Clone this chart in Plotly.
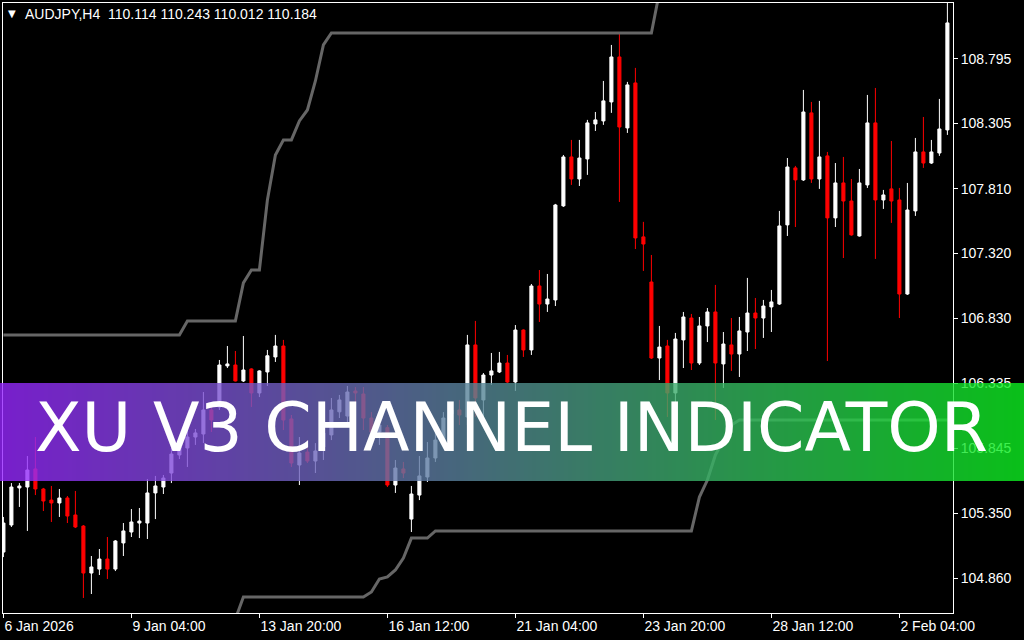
import plotly.graph_objects as go

# ---------------- data ----------------
bar_index = list(range(119))

date_tick_positions = [0, 16, 32, 48, 64, 80, 96, 112]
date_tick_labels = ["6 Jan 2026", "9 Jan 04:00", "13 Jan 20:00", "16 Jan 12:00",
                    "21 Jan 04:00", "23 Jan 20:00", "28 Jan 12:00", "2 Feb 04:00"]

price_ticks = [104.860, 105.350, 105.845, 106.335, 106.830, 107.320, 107.810, 108.305, 108.795]
price_tick_labels = ["104.860", "105.350", "105.845", "106.335", "106.830",
                     "107.320", "107.810", "108.305", "108.795"]

opens = [
    105.057, 105.262, 105.543, 105.550, 105.687, 105.535, 105.451, 105.429, 105.467, 105.338,
    105.254, 104.898, 104.928, 105.004, 104.928, 105.126, 105.209, 105.277, 105.277, 105.505,
    105.550, 105.656, 105.793, 105.846, 105.929, 105.952, 106.134, 106.157, 106.468, 106.475,
    106.354, 106.445, 106.263, 106.422, 106.536, 106.619, 106.066, 105.717, 105.815, 105.747,
    105.853, 105.945, 106.120, 106.088, 106.278, 106.255, 106.073, 105.967, 106.000, 105.565,
    105.687, 105.307, 105.489, 105.626, 105.770, 105.906, 106.104, 106.134, 106.081, 106.627,
    106.210, 106.399, 106.422, 106.490, 106.346, 106.740, 106.589, 107.074, 106.937, 106.968,
    107.681, 108.052, 107.885, 108.037, 108.302, 108.325, 108.469, 108.810, 108.272, 108.613,
    107.446, 107.104, 106.528, 106.619, 106.263, 106.665, 106.831, 106.490, 106.771, 106.877,
    106.483, 106.627, 106.558, 106.725, 106.869, 106.831, 106.915, 106.937, 107.537, 107.969,
    107.878, 108.386, 107.885, 108.060, 107.590, 107.855, 107.718, 107.453, 107.840, 108.310,
    107.726, 107.810, 107.726, 107.013, 107.643, 108.090, 108.006, 108.082, 108.257,
]
highs = [
    105.323, 105.580, 105.580, 105.785, 105.929, 105.543, 105.558, 105.535, 105.482, 105.520,
    105.262, 105.027, 105.080, 105.171, 105.148, 105.277, 105.383, 105.391, 105.611, 105.634,
    105.641, 105.846, 105.891, 105.982, 105.990, 106.270, 106.195, 106.513, 106.619, 106.581,
    106.695, 106.450, 106.435, 106.589, 106.703, 106.665, 106.096, 105.929, 105.906, 105.883,
    106.005, 106.225, 106.248, 106.316, 106.308, 106.308, 106.118, 106.096, 106.020, 105.755,
    105.740, 105.558, 105.785, 105.891, 105.982, 106.118, 106.172, 106.210, 106.703, 106.809,
    106.414, 106.566, 106.574, 106.551, 106.778, 106.745, 107.089, 107.195, 107.165, 107.696,
    108.067, 108.181, 108.181, 108.333, 108.393, 108.628, 108.901, 108.992, 108.621, 108.727,
    107.560, 107.309, 106.771, 106.665, 106.718, 106.877, 106.862, 106.839, 106.907, 107.082,
    106.725, 106.831, 106.839, 107.135, 106.983, 106.968, 107.044, 107.643, 108.044, 107.984,
    108.560, 108.469, 108.477, 108.090, 108.006, 108.052, 107.885, 107.961, 108.522, 108.575,
    107.802, 108.173, 107.817, 107.855, 108.196, 108.355, 108.181, 108.492, 109.230,
]
lows = [
    105.019, 105.247, 105.399, 105.217, 105.489, 105.368, 105.285, 105.323, 105.277, 105.239,
    104.709, 104.739, 104.883, 104.853, 104.913, 105.027, 105.171, 105.163, 105.156, 105.307,
    105.497, 105.580, 105.762, 105.702, 105.869, 105.883, 105.967, 106.134, 106.452, 106.350,
    106.346, 106.157, 106.232, 106.316, 106.498, 105.982, 105.702, 105.565, 105.732, 105.656,
    105.755, 105.906, 106.073, 106.005, 106.172, 105.982, 105.906, 105.869, 105.550, 105.505,
    105.618, 105.209, 105.451, 105.588, 105.740, 105.869, 106.035, 106.020, 106.020, 106.081,
    106.073, 106.324, 106.414, 106.339, 106.278, 106.536, 106.551, 106.801, 106.877, 106.922,
    107.673, 107.840, 107.832, 107.916, 108.249, 108.295, 108.386, 107.711, 108.234, 107.354,
    107.188, 106.521, 106.361, 106.081, 106.058, 106.452, 106.437, 106.475, 106.649, 106.058,
    106.301, 106.430, 106.384, 106.581, 106.596, 106.680, 106.725, 106.930, 107.453, 107.521,
    107.870, 107.855, 107.810, 106.505, 107.521, 107.286, 107.455, 107.448, 107.817, 107.279,
    107.658, 107.552, 106.831, 107.006, 107.605, 107.969, 107.999, 108.060, 108.219,
]
closes = [
    105.277, 105.550, 105.558, 105.679, 105.535, 105.444, 105.429, 105.467, 105.330, 105.247,
    104.898, 104.944, 105.004, 104.928, 105.141, 105.217, 105.285, 105.292, 105.505, 105.558,
    105.618, 105.800, 105.853, 105.929, 105.960, 106.134, 106.058, 106.475, 106.483, 106.354,
    106.437, 106.263, 106.430, 106.545, 106.619, 106.058, 105.732, 105.808, 105.747, 105.823,
    105.960, 106.134, 106.210, 106.270, 106.263, 106.073, 105.967, 106.020, 105.565, 105.694,
    105.656, 105.497, 105.634, 105.770, 105.906, 106.073, 106.134, 106.096, 106.627, 106.225,
    106.399, 106.430, 106.490, 106.346, 106.740, 106.589, 107.074, 106.937, 106.975, 107.688,
    108.052, 107.885, 108.044, 108.310, 108.333, 108.477, 108.810, 108.279, 108.598, 107.438,
    107.392, 106.528, 106.611, 106.263, 106.672, 106.839, 106.490, 106.771, 106.877, 106.490,
    106.634, 106.558, 106.733, 106.869, 106.831, 106.922, 106.953, 107.529, 107.976, 107.878,
    108.393, 107.885, 108.052, 107.590, 107.855, 107.718, 107.461, 107.855, 108.310, 107.726,
    107.764, 107.718, 107.013, 107.650, 108.090, 108.006, 108.090, 108.264, 109.068,
]

upper_channel = [
    106.703, 106.703, 106.703, 106.703, 106.703, 106.703, 106.703, 106.703, 106.703, 106.703,
    106.703, 106.703, 106.703, 106.703, 106.703, 106.703, 106.703, 106.703, 106.703, 106.703,
    106.703, 106.703, 106.703, 106.809, 106.809, 106.809, 106.809, 106.809, 106.809, 106.809,
    107.097, 107.195, 107.195, 107.726, 108.067, 108.181, 108.181, 108.325, 108.408, 108.628,
    108.901, 108.992, 108.992, 108.992, 108.992, 108.992, 108.992, 108.992, 108.992, 108.992,
    108.992, 108.992, 108.992, 108.992, 108.992, 108.992, 108.992, 108.992, 108.992, 108.992,
    108.992, 108.992, 108.992, 108.992, 108.992, 108.992, 108.992, 108.992, 108.992, 108.992,
    108.992, 108.992, 108.992, 108.992, 108.992, 108.992, 108.992, 108.992, 108.992, 108.992,
    108.992, 108.992, 109.300, 109.300, 109.300, 109.300, 109.300, 109.300, 109.300, 109.300,
    109.300, 109.300, 109.300, 109.300, 109.300, 109.300, 109.300, 109.300, 109.300, 109.300,
    109.300, 109.300, 109.300, 109.300, 109.300, 109.300, 109.300, 109.300, 109.300, 109.300,
    109.300, 109.300, 109.300, 109.300, 109.300, 109.300, 109.300, 109.300, 109.300,
]
lower_channel = [
    104.550, 104.550, 104.550, 104.550, 104.550, 104.550, 104.550, 104.550, 104.550, 104.550,
    104.550, 104.550, 104.550, 104.550, 104.550, 104.550, 104.550, 104.550, 104.550, 104.550,
    104.550, 104.550, 104.550, 104.550, 104.550, 104.550, 104.550, 104.550, 104.550, 104.550,
    104.716, 104.716, 104.716, 104.716, 104.716, 104.716, 104.716, 104.716, 104.716, 104.716,
    104.716, 104.716, 104.716, 104.716, 104.716, 104.716, 104.754, 104.853, 104.868, 104.921,
    105.012, 105.163, 105.163, 105.163, 105.217, 105.217, 105.217, 105.217, 105.217, 105.217,
    105.217, 105.217, 105.217, 105.217, 105.217, 105.217, 105.217, 105.217, 105.217, 105.217,
    105.217, 105.217, 105.217, 105.217, 105.217, 105.217, 105.217, 105.217, 105.217, 105.217,
    105.217, 105.217, 105.217, 105.217, 105.217, 105.217, 105.217, 105.474, 105.603, 105.793,
    105.906, 106.020, 106.058, 106.058, 106.058, 106.058, 106.058, 106.058, 106.058, 106.058,
    106.058, 106.058, 106.058, 106.058, 106.058, 106.058, 106.058, 106.058, 106.058, 106.058,
    106.058, 106.058, 106.058, 106.058, 106.058, 106.058, 106.058, 106.058, 106.058,
]

header_text = "AUDJPY,H4  110.114 110.243 110.012 110.184"
banner_text = "XU V3 CHANNEL INDICATOR"

# ---------------- figure ----------------
W, H = 1024, 640
ML, MR, MT, MB = 3, 71, 3, 27
PW, PH = W - ML - MR, H - MT - MB


def px_to_paper_x(px):
    return (px - ML) / PW


def px_to_paper_y(py):
    return (H - MB - py) / PH


fig = go.Figure()

fig.add_trace(go.Candlestick(
    x=bar_index, open=opens, high=highs, low=lows, close=closes,
    increasing=dict(line=dict(color="#ffffff", width=1), fillcolor="#ffffff"),
    decreasing=dict(line=dict(color="#ff0000", width=1), fillcolor="#ff0000"),
    whiskerwidth=0, hoverinfo="skip",
))

for ch in (upper_channel, lower_channel):
    fig.add_trace(go.Scatter(
        x=bar_index, y=ch, mode="lines",
        line=dict(color="#666666", width=3), hoverinfo="skip",
    ))

# gradient banner built from thin strips
shapes = []
c0 = (150, 38, 255)
c1 = (12, 240, 31)
strip = 4
for k in range(0, W, strip):
    t = (k + strip / 2) / W
    col = tuple(round(c0[j] + (c1[j] - c0[j]) * t) for j in range(3))
    shapes.append(dict(
        type="rect", xref="paper", yref="paper",
        x0=px_to_paper_x(k), x1=px_to_paper_x(k + strip),
        y0=px_to_paper_y(481), y1=px_to_paper_y(383),
        fillcolor="rgba(%d,%d,%d,0.8)" % col, line=dict(width=0), layer="above",
    ))

fig.update_layout(
    width=W, height=H,
    margin=dict(l=ML, r=MR, t=MT, b=MB),
    paper_bgcolor="#000000", plot_bgcolor="#000000",
    showlegend=False,
    boxgap=0.45,
    shapes=shapes,
    font=dict(family="Liberation Sans", color="#ffffff", size=13),
    xaxis=dict(
        range=[-0.05, 118.7], rangeslider=dict(visible=False),
        tickmode="array", tickvals=date_tick_positions, ticktext=date_tick_labels,
        ticks="outside", ticklen=4, tickcolor="#ffffff", tickwidth=1,
        ticklabelposition="outside right",
        showline=True, linecolor="#ffffff", linewidth=1, mirror=True,
        showgrid=False, zeroline=False,
        tickfont=dict(family="Liberation Sans", size=14, color="#ffffff"),
    ),
    yaxis=dict(
        side="right", range=[104.595, 109.219],
        tickmode="array", tickvals=price_ticks, ticktext=price_tick_labels,
        ticks="outside", ticklen=4, tickcolor="#ffffff", tickwidth=1,
        showline=True, linecolor="#ffffff", linewidth=1, mirror=True,
        showgrid=False, zeroline=False,
        tickfont=dict(family="Liberation Sans", size=14, color="#ffffff"),
    ),
    annotations=[
        dict(text="▼", xref="paper", yref="paper", x=px_to_paper_x(12), y=px_to_paper_y(14),
             xanchor="center", yanchor="middle", showarrow=False,
             font=dict(family="DejaVu Sans", size=10, color="#ffffff")),
        dict(text=header_text, xref="paper", yref="paper", x=px_to_paper_x(23), y=px_to_paper_y(14),
             xanchor="left", yanchor="middle", showarrow=False,
             font=dict(family="Liberation Sans", size=14, color="#ffffff")),
        dict(text=banner_text, xref="paper", yref="paper", x=px_to_paper_x(511), y=px_to_paper_y(427),
             xanchor="center", yanchor="middle", showarrow=False,
             font=dict(family="DejaVu Sans", size=68, color="#ffffff")),
    ],
)

fig.write_html(
    "out.html",
    config={"displayModeBar": False},
    post_script="document.body.style.margin='0px';document.body.style.background='#000000';",
)
